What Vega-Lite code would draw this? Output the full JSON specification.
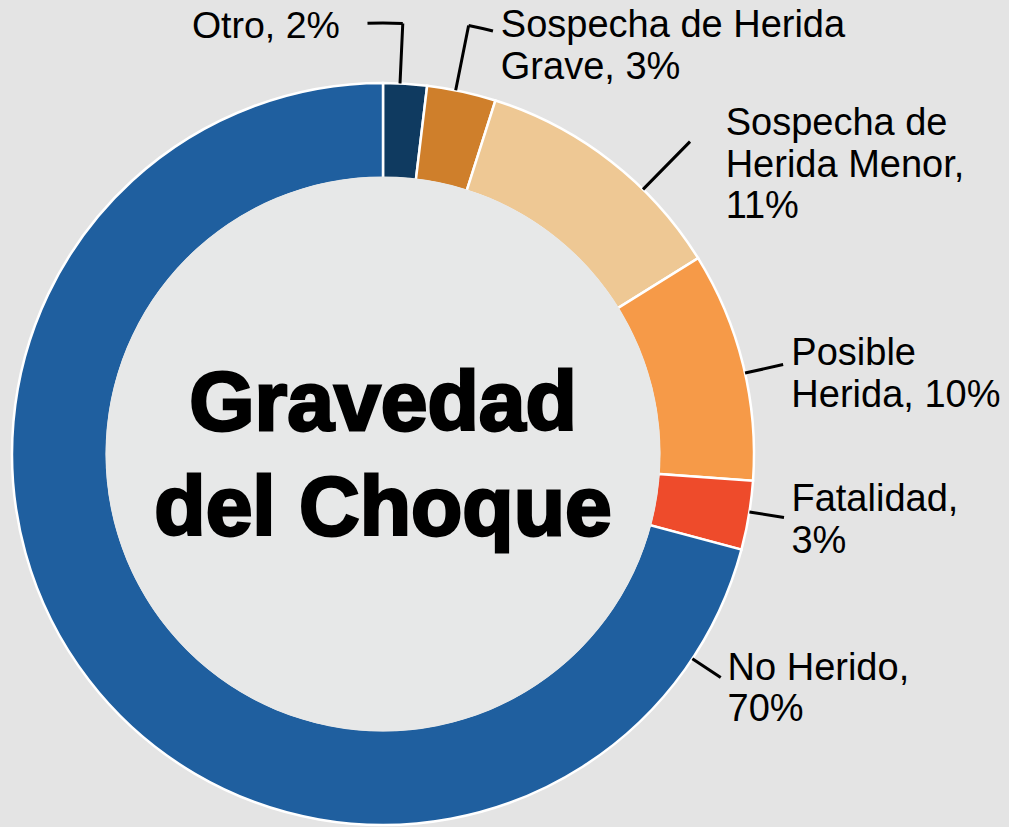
{
  "$schema": "https://vega.github.io/schema/vega-lite/v6.json",
  "width": 766,
  "height": 908,
  "autosize": {"type": "none"},
  "padding": {"left": 0, "top": 0, "right": 243, "bottom": -81},
  "background": "#e4e4e4",
  "view": {"stroke": null},
  "config": {"font": "Liberation Sans"},
  "layer": [
    {
      "data": {
        "values": [
          {"category": "Otro", "value": 1.9, "order": 1, "label": "Otro, 2%"},
          {"category": "Sospecha de Herida Grave", "value": 3.0, "order": 2, "label": "Sospecha de Herida\nGrave, 3%"},
          {"category": "Sospecha de Herida Menor", "value": 11.25, "order": 3, "label": "Sospecha de\nHerida Menor,\n11%"},
          {"category": "Posible Herida", "value": 10.0, "order": 4, "label": "Posible\nHerida, 10%"},
          {"category": "Fatalidad", "value": 3.0, "order": 5, "label": "Fatalidad,\n3%"},
          {"category": "No Herido", "value": 70.85, "order": 6, "label": "No Herido,\n70%"}
        ]
      },
      "encoding": {
        "theta": {"field": "value", "type": "quantitative", "stack": true, "scale": {"domain": [0, 100], "nice": false}},
        "order": {"field": "order", "type": "quantitative"},
        "detail": {"field": "category", "type": "nominal"}
      },
      "resolve": {"scale": {"theta": "independent"}},
      "layer": [
        {
          "mark": {"type": "arc", "outerRadius": 371, "innerRadius": 276, "stroke": "#ffffff", "strokeWidth": 2.5},
          "encoding": {
            "color": {
              "field": "category", "type": "nominal", "legend": null,
              "scale": {
                "domain": ["Otro", "Sospecha de Herida Grave", "Sospecha de Herida Menor", "Posible Herida", "Fatalidad", "No Herido"],
                "range": ["#0f3a60", "#cf7f2b", "#eec894", "#f69a48", "#ee4b2b", "#1f5f9f"]
              }
            }
          }
        },
        {
          "mark": {"type": "arc", "radius": 431, "radius2": 371, "filled": false, "color": "#000000", "strokeWidth": 3, "strokeCap": "square"},
          "encoding": {
            "theta": {"field": "value", "type": "quantitative", "stack": true, "scale": {"domain": [0, 100], "nice": false, "range": [0.0459, 0.0459]}},
            "strokeOpacity": {"condition": {"test": "datum.category === 'Otro'", "value": 1}, "value": 0}
          }
        },
        {
          "mark": {"type": "arc", "radius": 431, "radius2": 431, "filled": false, "color": "#000000", "strokeWidth": 3, "strokeCap": "square"},
          "encoding": {
            "theta": {"field": "value", "type": "quantitative", "stack": true, "scale": {"domain": [0, 100], "nice": false, "range": [-0.036, 4.2745]}},
            "strokeOpacity": {"condition": {"test": "datum.category === 'Otro'", "value": 1}, "value": 0}
          }
        },
        {
          "mark": {"type": "arc", "radius": 437, "radius2": 371, "filled": false, "color": "#000000", "strokeWidth": 3, "strokeCap": "square"},
          "encoding": {
            "theta": {"field": "value", "type": "quantitative", "stack": true, "scale": {"domain": [0, 100], "nice": false, "range": [0.1972, 0.1972]}},
            "strokeOpacity": {"condition": {"test": "datum.category === 'Sospecha de Herida Grave'", "value": 1}, "value": 0}
          }
        },
        {
          "mark": {"type": "arc", "radius": 437, "radius2": 437, "filled": false, "color": "#000000", "strokeWidth": 3, "strokeCap": "square"},
          "encoding": {
            "theta": {"field": "value", "type": "quantitative", "stack": true, "scale": {"domain": [0, 100], "nice": false, "range": [0.16097, 2.0676]}},
            "strokeOpacity": {"condition": {"test": "datum.category === 'Sospecha de Herida Grave'", "value": 1}, "value": 0}
          }
        },
        {
          "mark": {"type": "arc", "radius": 438, "radius2": 371, "filled": false, "color": "#000000", "strokeWidth": 3},
          "encoding": {
            "theta": {"field": "value", "type": "quantitative", "stack": true, "scale": {"domain": [0, 100], "nice": false, "range": [0.7767, 0.7767]}},
            "strokeOpacity": {"condition": {"test": "datum.category === 'Sospecha de Herida Menor'", "value": 1}, "value": 0}
          }
        },
        {
          "mark": {"type": "arc", "radius": 410, "radius2": 371, "filled": false, "color": "#000000", "strokeWidth": 3},
          "encoding": {
            "theta": {"field": "value", "type": "quantitative", "stack": true, "scale": {"domain": [0, 100], "nice": false, "range": [1.3509, 1.3509]}},
            "strokeOpacity": {"condition": {"test": "datum.category === 'Posible Herida'", "value": 1}, "value": 0}
          }
        },
        {
          "mark": {"type": "arc", "radius": 406, "radius2": 371, "filled": false, "color": "#000000", "strokeWidth": 3},
          "encoding": {
            "theta": {"field": "value", "type": "quantitative", "stack": true, "scale": {"domain": [0, 100], "nice": false, "range": [1.7279, 1.7279]}},
            "strokeOpacity": {"condition": {"test": "datum.category === 'Fatalidad'", "value": 1}, "value": 0}
          }
        },
        {
          "mark": {"type": "arc", "radius": 405, "radius2": 371, "filled": false, "color": "#000000", "strokeWidth": 3},
          "encoding": {
            "theta": {"field": "value", "type": "quantitative", "stack": true, "scale": {"domain": [0, 100], "nice": false, "range": [2.1555, 2.1555]}},
            "strokeOpacity": {"condition": {"test": "datum.category === 'No Herido'", "value": 1}, "value": 0}
          }
        },
        {
          "mark": {"type": "text", "radius": 400, "align": "right", "baseline": "alphabetic", "dx": -67, "dy": -17, "fontSize": 37.5, "lineBreak": "\n", "lineHeight": 41.5, "color": "#000000"},
          "encoding": {"text": {"condition": {"test": "datum.category === 'Otro'", "field": "label", "type": "nominal"}, "value": ""}}
        },
        {
          "mark": {"type": "text", "radius": 400, "align": "left", "baseline": "alphabetic", "dx": 33, "dy": -26, "fontSize": 38, "lineBreak": "\n", "lineHeight": 41.5, "color": "#000000"},
          "encoding": {"text": {"condition": {"test": "datum.category === 'Sospecha de Herida Grave'", "field": "label", "type": "nominal"}, "value": ""}}
        },
        {
          "mark": {"type": "text", "radius": 400, "align": "left", "baseline": "alphabetic", "dx": 97, "dy": -3, "fontSize": 38, "lineBreak": "\n", "lineHeight": 41.5, "color": "#000000"},
          "encoding": {"text": {"condition": {"test": "datum.category === 'Sospecha de Herida Menor'", "field": "label", "type": "nominal"}, "value": ""}}
        },
        {
          "mark": {"type": "text", "radius": 400, "align": "left", "baseline": "alphabetic", "dx": 20, "dy": 7, "fontSize": 38, "lineBreak": "\n", "lineHeight": 41.5, "color": "#000000"},
          "encoding": {"text": {"condition": {"test": "datum.category === 'Posible Herida'", "field": "label", "type": "nominal"}, "value": ""}}
        },
        {
          "mark": {"type": "text", "radius": 400, "align": "left", "baseline": "alphabetic", "dx": 14, "dy": -9, "fontSize": 38, "lineBreak": "\n", "lineHeight": 41.5, "color": "#000000"},
          "encoding": {"text": {"condition": {"test": "datum.category === 'Fatalidad'", "field": "label", "type": "nominal"}, "value": ""}}
        },
        {
          "mark": {"type": "text", "radius": 400, "thetaOffset": -1.9019, "align": "left", "baseline": "alphabetic", "dx": 11, "dy": 5, "fontSize": 38, "lineBreak": "\n", "lineHeight": 41.5, "color": "#000000"},
          "encoding": {"text": {"condition": {"test": "datum.category === 'No Herido'", "field": "label", "type": "nominal"}, "value": ""}}
        }
      ]
    },
    {
      "data": {"values": [{"title": "Gravedad\ndel Choque"}]},
      "layer": [
        {
          "mark": {"type": "arc", "radius": 277.5, "radius2": 0, "theta": 0, "theta2": 6.2832, "fill": "#e7e8e8"}
        },
        {
          "mark": {"type": "text", "align": "center", "baseline": "alphabetic", "dy": -24, "fontSize": 84, "fontWeight": "bold", "lineBreak": "\n", "lineHeight": 105, "fill": "#000000", "stroke": "#000000", "strokeWidth": 2.8},
          "encoding": {"text": {"field": "title", "type": "nominal"}}
        }
      ]
    }
  ]
}
